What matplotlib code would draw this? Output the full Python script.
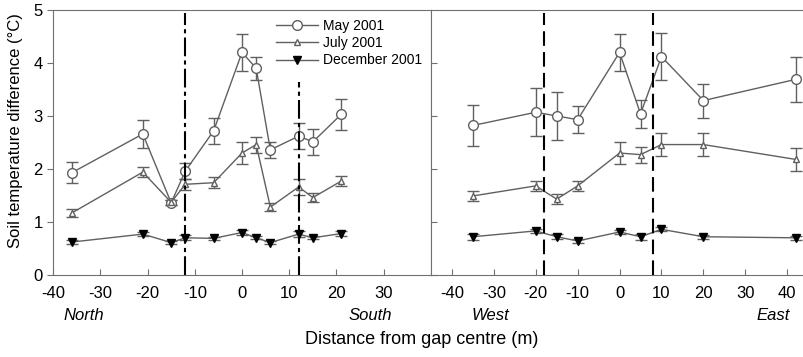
import numpy as np
import matplotlib
matplotlib.use('Agg')
import matplotlib.pyplot as plt
from matplotlib.lines import Line2D

plt.rcParams['font.family'] = ['Liberation Sans', 'DejaVu Sans']
plt.rcParams['axes.unicode_minus'] = False

# left panel: north-south transect
ns_x = [-36, -21, -15, -12, -6, 0, 3, 6, 12, 15, 21]
ns_may = [1.93, 2.66, 1.36, 1.96, 2.72, 4.2, 3.9, 2.36, 2.62, 2.51, 3.03]
ns_may_err = [0.2, 0.26, 0.05, 0.15, 0.25, 0.35, 0.22, 0.15, 0.24, 0.25, 0.29]
ns_jul = [1.17, 1.94, 1.37, 1.71, 1.74, 2.3, 2.46, 1.28, 1.66, 1.46, 1.77]
ns_jul_err = [0.07, 0.1, 0.05, 0.1, 0.1, 0.2, 0.15, 0.08, 0.15, 0.08, 0.1]
ns_dec = [0.62, 0.77, 0.61, 0.7, 0.69, 0.8, 0.7, 0.61, 0.77, 0.7, 0.78]
ns_dec_err = [0.03, 0.04, 0.03, 0.05, 0.03, 0.04, 0.03, 0.03, 0.05, 0.03, 0.04]
ns_gap = [-12, 12]
ns_gap_top = [4.95, 3.65]

# right panel: west-east transect
we_x = [-35, -20, -15, -10, 0, 5, 10, 20, 42]
we_may = [2.82, 3.07, 3.0, 2.93, 4.2, 3.04, 4.12, 3.29, 3.69]
we_may_err = [0.39, 0.45, 0.45, 0.26, 0.35, 0.26, 0.44, 0.32, 0.43]
we_jul = [1.49, 1.68, 1.43, 1.68, 2.3, 2.27, 2.46, 2.46, 2.18]
we_jul_err = [0.1, 0.1, 0.1, 0.1, 0.2, 0.15, 0.22, 0.22, 0.22]
we_dec = [0.72, 0.83, 0.72, 0.64, 0.81, 0.72, 0.86, 0.72, 0.7]
we_dec_err = [0.06, 0.04, 0.05, 0.03, 0.04, 0.06, 0.04, 0.04, 0.04]
we_gap = [-18, 8]

line_c = '#606060'
spine_c = '#707070'

# marker styles per series
styles = {
    'May 2001': dict(marker='o', ms=7, mfc='white', mec=line_c),
    'July 2001': dict(marker='^', ms=5, mfc='white', mec=line_c),
    'December 2001': dict(marker='v', ms=6, mfc='black', mec='black'),
}

fig = plt.figure(figsize=(8.04, 3.57), dpi=100)
ax1 = fig.add_axes([0.066, 0.23, 0.470, 0.742])
ax2 = fig.add_axes([0.536, 0.23, 0.464, 0.742])


def draw(ax, x, series):
    for (lab, y, e) in series:
        ax.errorbar(x, y, yerr=e, color=line_c, lw=1, capsize=4, elinewidth=1,
                    zorder=3, **styles[lab])


draw(ax1, ns_x, [('May 2001', ns_may, ns_may_err),
                 ('July 2001', ns_jul, ns_jul_err),
                 ('December 2001', ns_dec, ns_dec_err)])
draw(ax2, we_x, [('May 2001', we_may, we_may_err),
                 ('July 2001', we_jul, we_jul_err),
                 ('December 2001', we_dec, we_dec_err)])

for g, top in zip(ns_gap, ns_gap_top):
    ax1.plot([g, g], [0, top], color='black', lw=1.5, ls=(0, (9, 2, 2, 2)), zorder=4)
for g in we_gap:
    ax2.plot([g, g], [0, 4.95], color='black', lw=1.5, ls=(0, (7, 3)), zorder=4)

ax1.set_xlim(-40, 40)
ax2.set_xlim(-45, 44)
for ax in (ax1, ax2):
    ax.set_ylim(0, 5)
    for s in ax.spines.values():
        s.set_color(spine_c)
    ax.tick_params(colors=spine_c, labelcolor='black', labelsize=12, length=4)
    ax.tick_params(axis='x', direction='in', pad=8)

ax1.set_xticks(np.arange(-40, 31, 10))
ax1.set_yticks(np.arange(0, 6, 1))
ax1.tick_params(axis='y', direction='out')
ax2.set_xticks(np.arange(-40, 41, 10))
ax2.set_yticks(np.arange(0, 5, 1))
ax2.tick_params(axis='y', direction='in', labelleft=False)
ax2.spines['right'].set_visible(False)

handles = [Line2D([], [], color=line_c, lw=1, **styles[k]) for k in styles]
ax1.legend(handles, list(styles), loc='upper right', bbox_to_anchor=(1.01, 1.015),
           frameon=False, fontsize=10, handlelength=3, handletextpad=0.4,
           labelspacing=0.25)

fig.text(0.019, 0.635, 'Soil temperature difference (°C)', rotation=90,
         ha='center', va='center', fontsize=12)
fig.text(0.525, 0.048, 'Distance from gap centre (m)', ha='center', va='center', fontsize=13)
fig.text(0.104, 0.115, 'North', ha='center', va='center', fontsize=12, style='italic')
fig.text(0.461, 0.115, 'South', ha='center', va='center', fontsize=12, style='italic')
fig.text(0.610, 0.115, 'West', ha='center', va='center', fontsize=12, style='italic')
fig.text(0.962, 0.115, 'East', ha='center', va='center', fontsize=12, style='italic')

fig.savefig('out.png', dpi=100)
